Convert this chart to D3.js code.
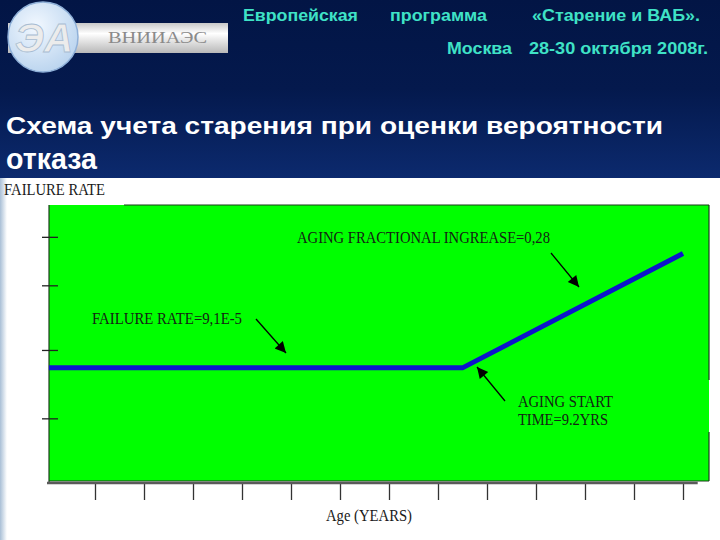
<!DOCTYPE html>
<html><head><meta charset="utf-8">
<script src="https://cdn.jsdelivr.net/npm/d3@7/dist/d3.min.js"></script>
<style>html,body{margin:0;padding:0;background:#fff;}svg{display:block;}</style>
</head><body>
<script>
// ---- data ----
const ageTicks = [1,2,3,4,5,6,7,8,9,10,11,12,13];
const rateTicks = [5.0, 10.5, 15.7, 19.6];
const curveAges = [0.06, 8.5, 13.0];
const curveRates = [9.1, 9.1, 18.3];
const headerLine1 = ["Европейская", "программа", "«Старение и ВАБ»."];
const headerLine2 = ["Москва", "28-30 октября 2008г."];
const titleLines = ["Схема учета старения при оценки вероятности", "отказа"];
const annotations = [
  {lines:["AGING FRACTIONAL INGREASE=0,28"], x:297, y:243, w:[253], arrow:[551,253,579,287]},
  {lines:["FAILURE RATE=9,1E-5"], x:92, y:324, w:[150], arrow:[256,319,286,353]},
  {lines:["AGING START","TIME=9.2YRS"], x:518, y:407, w:[95,90], arrow:[505,401,477,367]}
];

const W=720, H=540;
const svg = d3.select("body").append("svg").attr("width",W).attr("height",H);
const defs = svg.append("defs");

// background gradient
const bg = defs.append("linearGradient").attr("id","bg").attr("x1",0).attr("y1",0).attr("x2",0).attr("y2",1);
bg.append("stop").attr("offset","0%").attr("stop-color","#021545");
bg.append("stop").attr("offset","50%").attr("stop-color","#04194d");
bg.append("stop").attr("offset","100%").attr("stop-color","#0c2a6e");
svg.append("rect").attr("x",0).attr("y",0).attr("width",W).attr("height",178).attr("fill","url(#bg)");
svg.append("rect").attr("x",0).attr("y",178).attr("width",W).attr("height",H-178).attr("fill","#ffffff");
const lg = defs.append("linearGradient").attr("id","leftstrip").attr("x1",0).attr("x2",1).attr("y1",0).attr("y2",0);
lg.append("stop").attr("offset","0%").attr("stop-color","#a9bfd6");
lg.append("stop").attr("offset","100%").attr("stop-color","#ffffff");
svg.append("rect").attr("x",0).attr("y",178).attr("width",7).attr("height",H-178).attr("fill","url(#leftstrip)");

// logo
const bar = defs.append("linearGradient").attr("id","bar").attr("x1",0).attr("x2",0).attr("y1",0).attr("y2",1);
bar.append("stop").attr("offset","0%").attr("stop-color","#c8c8c8");
bar.append("stop").attr("offset","35%").attr("stop-color","#ffffff");
bar.append("stop").attr("offset","100%").attr("stop-color","#b8b8b8");
svg.append("rect").attr("x",8).attr("y",23).attr("width",220).attr("height",30).attr("fill","url(#bar)");
const circ = defs.append("radialGradient").attr("id","circ").attr("cx","40%").attr("cy","35%").attr("r","70%");
circ.append("stop").attr("offset","0%").attr("stop-color","#f2f8ff");
circ.append("stop").attr("offset","100%").attr("stop-color","#b9d3ee");
svg.append("circle").attr("cx",43).attr("cy",37).attr("r",35).attr("fill","url(#circ)").attr("stroke","#8fb0d8").attr("stroke-width",1.5);
svg.append("text").attr("x",44).attr("y",52).attr("text-anchor","middle")
  .attr("font-family","Liberation Sans, Arial, sans-serif").attr("font-weight","bold").attr("font-style","italic")
  .attr("font-size",40).attr("fill","#ececec").attr("stroke","#a8bcd2").attr("stroke-width",0.8)
  .attr("textLength",58).attr("lengthAdjust","spacingAndGlyphs").text("ЭА");
svg.append("text").attr("x",108).attr("y",43)
  .attr("font-family","Liberation Serif, Times New Roman, serif").attr("font-size",16)
  .attr("fill","#8a8a8a").attr("textLength",99).attr("lengthAdjust","spacingAndGlyphs").text("ВНИИАЭС");

// header text
const hdrFont = "Liberation Sans, Arial, sans-serif";
const h1x = [243, 390, 532], h1w=[115, 97, 168];
headerLine1.forEach((t,i)=>{
  svg.append("text").attr("x",h1x[i]).attr("y",21).attr("font-family",hdrFont).attr("font-weight","bold")
    .attr("font-size",16.5).attr("fill","#3fe2c6").attr("textLength",h1w[i]).attr("lengthAdjust","spacingAndGlyphs").text(t);
});
const h2x=[447,529], h2w=[65,179];
headerLine2.forEach((t,i)=>{
  svg.append("text").attr("x",h2x[i]).attr("y",54).attr("font-family",hdrFont).attr("font-weight","bold")
    .attr("font-size",16.5).attr("fill","#3fe2c6").attr("textLength",h2w[i]).attr("lengthAdjust","spacingAndGlyphs").text(t);
});

// title
const tY=[134,169], tW=[657,91], tS=[24,29];
titleLines.forEach((t,i)=>{
  svg.append("text").attr("x",6).attr("y",tY[i]).attr("font-family",hdrFont).attr("font-weight","bold")
    .attr("font-size",tS[i]).attr("fill","#ffffff").attr("textLength",tW[i]).attr("lengthAdjust","spacingAndGlyphs").text(t);
});

// ---- chart ----
const serif = "Liberation Serif, Times New Roman, serif";
const x = d3.scaleLinear().domain([0,13.5]).range([46,707.5]);
const y = d3.scaleLinear().domain([0,22.2]).range([481,205]);

// plot area
svg.append("rect").attr("x",49).attr("y",205).attr("width",660).attr("height",276)
  .attr("fill","#00ff00").attr("stroke","none");
// frame (top border starts a bit right, as in reference)
svg.append("line").attr("x1",124).attr("x2",709).attr("y1",205).attr("y2",205).attr("stroke","#1d3a1d").attr("stroke-width",1.2);
svg.append("line").attr("x1",709).attr("x2",709).attr("y1",205).attr("y2",380).attr("stroke","#1d3a1d").attr("stroke-width",1.2);
svg.append("line").attr("x1",709).attr("x2",709).attr("y1",432).attr("y2",481).attr("stroke","#1d3a1d").attr("stroke-width",1.2);
svg.append("line").attr("x1",49).attr("x2",49).attr("y1",205).attr("y2",482).attr("stroke","#1d3a1d").attr("stroke-width",1.2);
svg.append("line").attr("x1",49).attr("x2",709).attr("y1",481).attr("y2",481).attr("stroke","#1d3a1d").attr("stroke-width",1.2);

// bottom axis
const xAxis = d3.axisBottom(x).tickValues(ageTicks).tickFormat("").tickSize(17).tickSizeOuter(0);
const gx = svg.append("g").attr("transform","translate(0,483)").call(xAxis);
gx.select(".domain").remove();
gx.selectAll(".tick line").attr("stroke","#333").attr("stroke-width",1.3);
svg.append("line").attr("x1",x(0)+1).attr("x2",x(13.3)).attr("y1",483).attr("y2",483)
  .attr("stroke","#5a5a5a").attr("stroke-width",2.5);

// left ticks
svg.append("g").selectAll("line").data(rateTicks).join("line")
  .attr("x1",42).attr("x2",58).attr("y1",d=>y(d)).attr("y2",d=>y(d))
  .attr("stroke","#222").attr("stroke-width",1.3);

// curve
const line = d3.line().x((d,i)=>x(curveAges[i])).y(d=>y(d));
svg.append("path").datum(curveRates).attr("d",line).attr("fill","none")
  .attr("stroke","#0c14cc").attr("stroke-width",5).attr("stroke-linejoin","miter");

// axis titles
svg.append("text").attr("x",4).attr("y",195).attr("font-family",serif).attr("font-size",16)
  .attr("fill","#1a1a1a").attr("textLength",101).attr("lengthAdjust","spacingAndGlyphs").text("FAILURE RATE");
svg.append("text").attr("x",326).attr("y",521).attr("font-family",serif).attr("font-size",16)
  .attr("fill","#1a1a1a").attr("textLength",86).attr("lengthAdjust","spacingAndGlyphs").text("Age (YEARS)");

// annotations
defs.append("marker").attr("id","ah").attr("viewBox","0 0 10 10").attr("refX",10).attr("refY",5)
  .attr("markerWidth",15).attr("markerHeight",11).attr("markerUnits","userSpaceOnUse").attr("orient","auto")
  .append("path").attr("d","M0,0 L10,5 L0,10 Z").attr("fill","#000");
annotations.forEach(a=>{
  a.lines.forEach((t,i)=>{
    svg.append("text").attr("x",a.x).attr("y",a.y+i*18).attr("font-family",serif).attr("font-size",16)
      .attr("fill","#142414").attr("textLength",a.w[i]).attr("lengthAdjust","spacingAndGlyphs").text(t);
  });
  svg.append("line").attr("x1",a.arrow[0]).attr("y1",a.arrow[1]).attr("x2",a.arrow[2]).attr("y2",a.arrow[3])
    .attr("stroke","#000").attr("stroke-width",1.3).attr("marker-end","url(#ah)");
});
</script>
</body></html>
